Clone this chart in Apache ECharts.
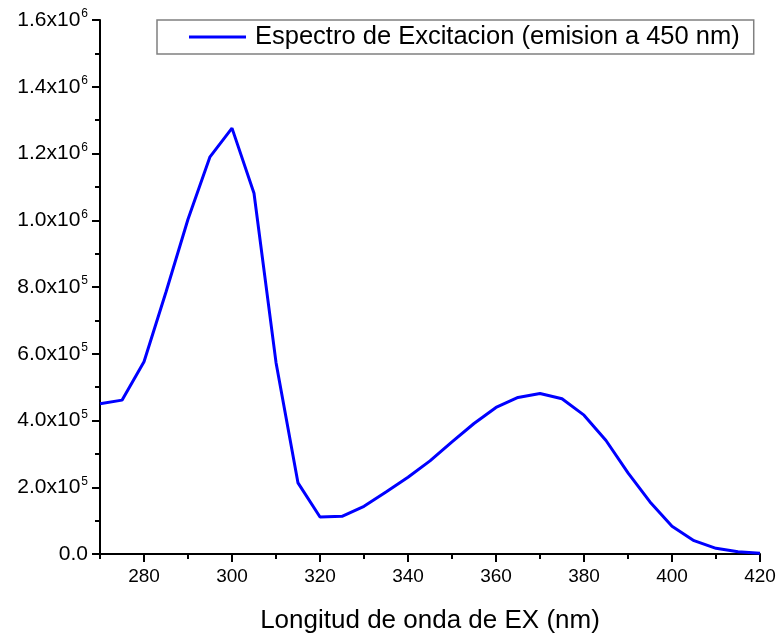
<!DOCTYPE html>
<html>
<head>
<meta charset="utf-8">
<script src="https://cdn.jsdelivr.net/npm/echarts@6/dist/echarts.min.js"></script>
<style>
html,body{margin:0;padding:0;background:#fff;}
#chart{width:779px;height:634px;}
</style>
</head>
<body>
<div id="chart"></div>
<script>
// ---- data ----
const wavelengths = [270,275,280,285,290,295,300,305,310,315,320,325,330,335,340,345,350,355,360,365,370,375,380,385,390,395,400,405,410,415,420];
const intensities = [450000,461000,576000,785000,1003000,1190000,1276000,1081000,574000,213000,111000,113000,143000,186000,230000,279000,336000,391000,439000,469000,481000,465000,416000,340000,243000,156000,83000,40000,17000,7000,2000];
const seriesName = 'Espectro de Excitacion (emision a 450 nm)';
const xTitle = 'Longitud de onda de EX (nm)';
const xMajorTicks = [280,300,320,340,360,380,400,420];
const xMinorTicks = [270,290,310,330,350,370,390,410];
const yMin = 0, yMax = 1600000, yStep = 200000;

const points = wavelengths.map((w, i) => [w, intensities[i]]);

function yLabel(v) {
  if (v === 0) return '{b|0.0}';
  const exp = Math.floor(Math.log10(v) + 1e-9);
  const mant = (v / Math.pow(10, exp)).toFixed(1);
  return '{b|' + mant + 'x10}{s|' + exp + '}';
}

const font = '"Liberation Sans", Arial, sans-serif';
const chart = echarts.init(document.getElementById('chart'));
chart.setOption({
  animation: false,
  backgroundColor: '#fff',
  grid: { left: 100, right: 19, top: 20, bottom: 80, containLabel: false, outerBoundsMode: 'none' },
  legend: {
    show: true,
    left: 157, top: 20,
    padding: [4, 14, 4, 32],
    borderColor: '#808080', borderWidth: 1.5,
    itemWidth: 57, itemHeight: 3,
    icon: 'rect',
    itemStyle: { color: '#0000ff' },
    textStyle: { fontFamily: font, fontSize: 25.5, color: '#000', padding: [0, 0, 0, 4] },
    data: [seriesName]
  },
  xAxis: [{
    type: 'value', min: 270, max: 420,
    name: xTitle, nameLocation: 'middle', nameGap: 54,
    nameTextStyle: { fontFamily: font, fontSize: 26, color: '#000' },
    axisLine: { show: true, onZero: false, lineStyle: { color: '#000', width: 2 } },
    axisTick: { show: true, inside: false, length: 8, customValues: xMajorTicks, lineStyle: { color: '#000', width: 2 } },
    axisLabel: { show: true, customValues: xMajorTicks, margin: 13, fontFamily: font, fontSize: 19, color: '#000' },
    splitLine: { show: false }
  }, {
    type: 'value', min: 270, max: 420, position: 'bottom',
    axisLine: { show: false },
    axisTick: { show: true, inside: false, length: 5, customValues: xMinorTicks, lineStyle: { color: '#000', width: 2 } },
    axisLabel: { show: false },
    splitLine: { show: false }
  }],
  yAxis: {
    type: 'value', min: yMin, max: yMax, interval: yStep,
    axisLine: { show: true, onZero: false, lineStyle: { color: '#000', width: 2 } },
    axisTick: { show: true, inside: false, length: 8, lineStyle: { color: '#000', width: 2 } },
    minorTick: { show: true, splitNumber: 2, length: 5, lineStyle: { color: '#000', width: 2 } },
    axisLabel: {
      margin: 12,
      formatter: yLabel,
      rich: {
        b: { fontFamily: font, fontSize: 21, color: '#000' },
        s: { fontFamily: font, fontSize: 12, color: '#000', padding: [0, 0, 12, 1] }
      }
    },
    splitLine: { show: false }
  },
  series: [{
    name: seriesName,
    type: 'line',
    xAxisIndex: 0,
    data: points,
    symbol: 'none',
    smooth: false,
    lineStyle: { color: '#0000ff', width: 3 },
    itemStyle: { color: '#0000ff' }
  }],
  graphic: [{
    type: 'rect', left: 0, top: 0, z: 100,
    shape: { width: 16, height: 634 },
    style: { fill: '#fff' }
  }]
});
</script>
</body>
</html>
